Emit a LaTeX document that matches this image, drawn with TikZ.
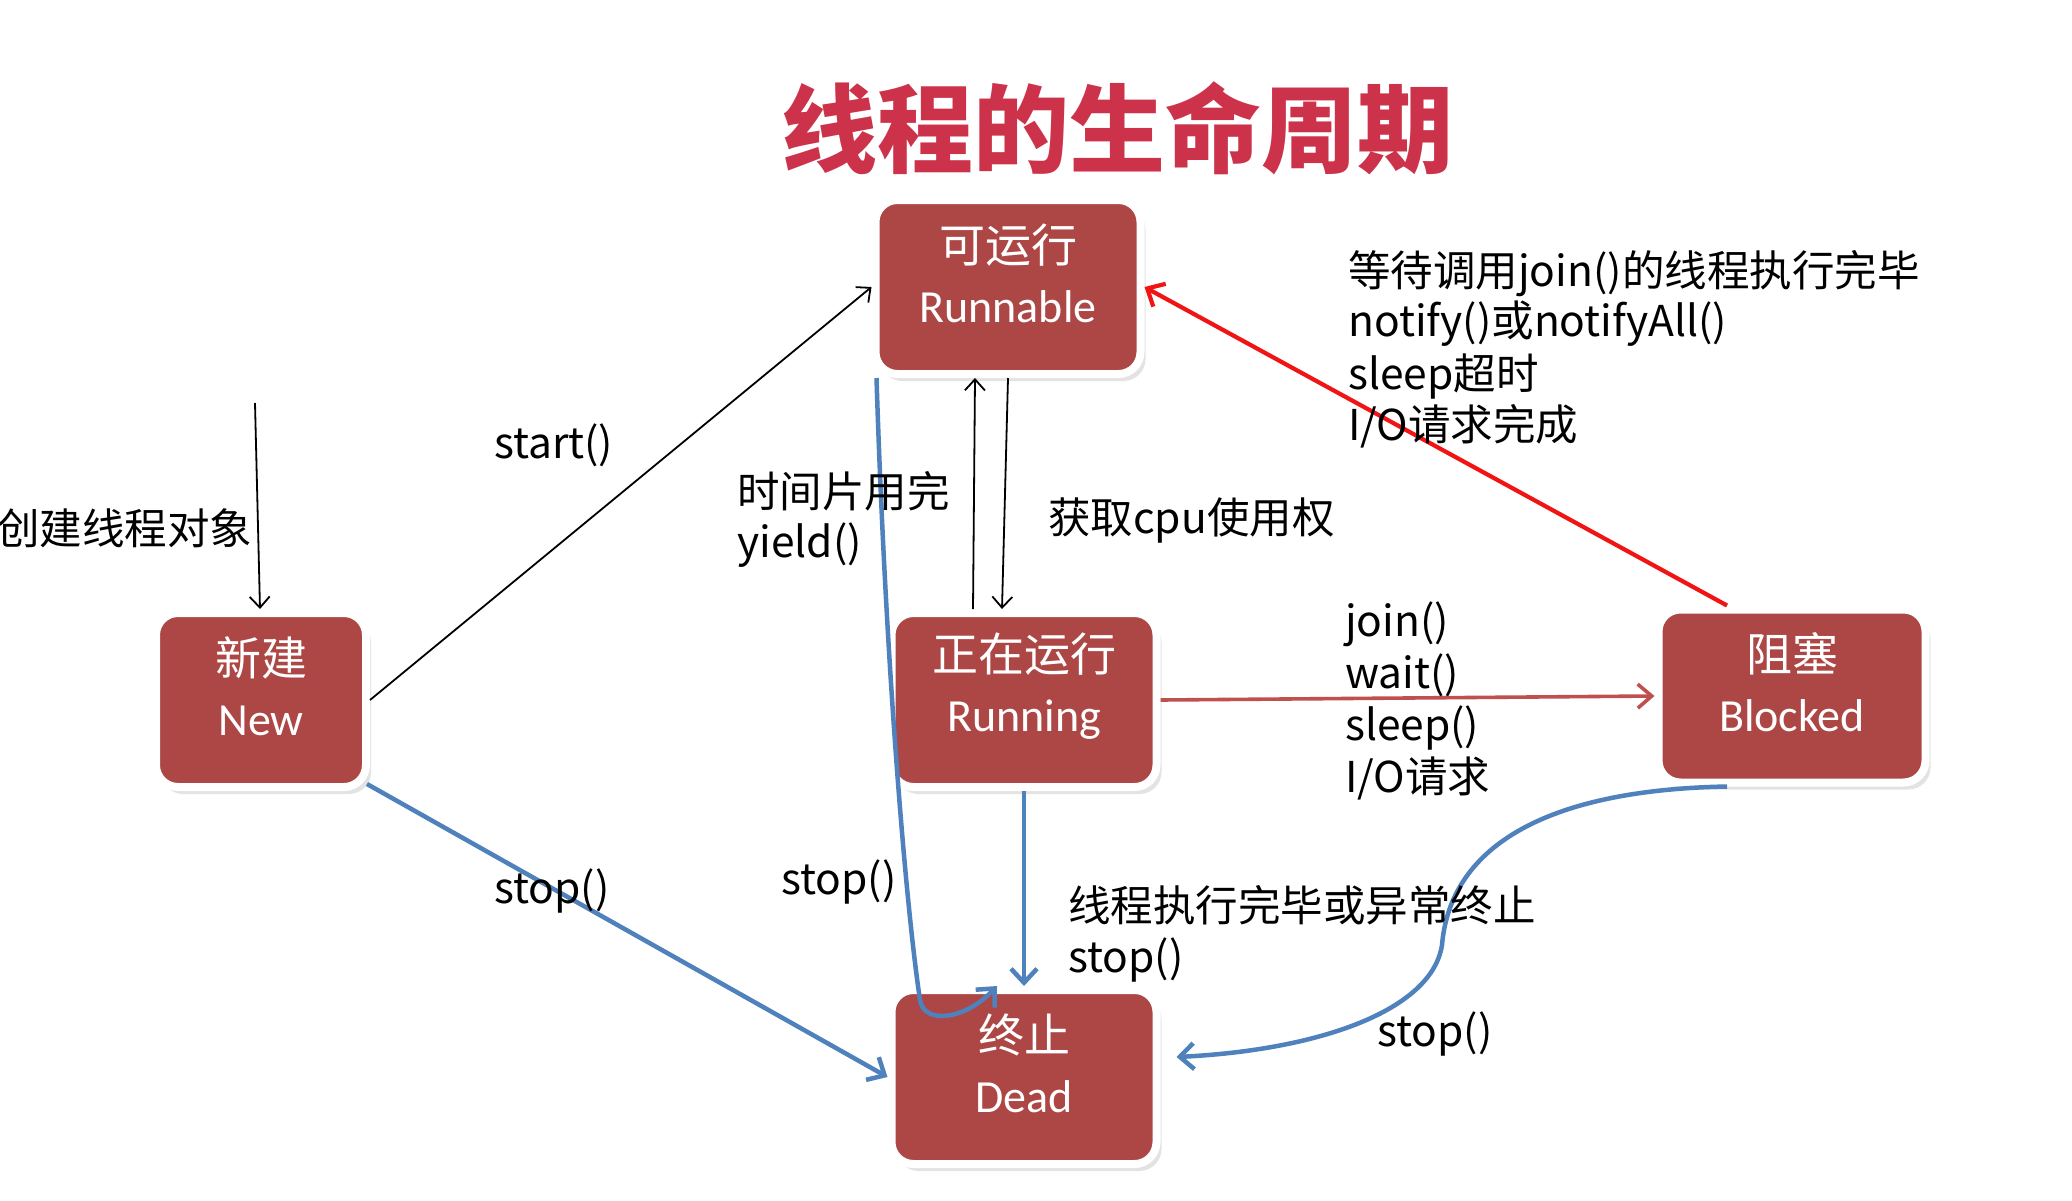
\documentclass[tikz,border=0pt]{standalone}
\usepackage{fontspec}
\setmainfont{Carlito}
\newfontfamily\cjk{Noto Sans CJK SC}
\usetikzlibrary{arrows.meta,shadows,calc}
\definecolor{boxred}{RGB}{172,71,69}
\definecolor{titlered}{RGB}{204,51,75}
\definecolor{lineblue}{RGB}{79,129,189}
\definecolor{arrowred}{RGB}{240,20,20}
\definecolor{darkred}{RGB}{192,80,77}
\begin{document}
\begin{tikzpicture}[x=1pt,y=-1pt,
  state/.style={draw=white, line width=8pt, fill=boxred, rounded corners=22pt,
    minimum width=265pt, minimum height=174pt, inner sep=0pt,
    drop shadow={shadow xshift=5pt, shadow yshift=-7pt, opacity=0.22}},
  statetxt/.style={text=white, align=center, inner sep=0pt,
    font=\fontsize{46}{60}\selectfont},
  lbl/.style={anchor=west, inner sep=0pt, text height=37pt, text depth=7pt,
    font=\cjk\fontsize{42.5}{51}\selectfont},
  blk/.style={draw=black, line width=1.8pt, -{Straight Barb[length=11pt,width=20pt]}},
  bluearr/.style={draw=lineblue, line width=4.5pt, -{Straight Barb[length=14pt,width=26pt]}},
  redarr/.style={draw=arrowred, line width=4.2pt, -{Straight Barb[length=14pt,width=26pt]}},
  drarr/.style={draw=darkred, line width=3.6pt, -{Straight Barb[length=14pt,width=24pt]}}
]
\fill[white] (0,0) rectangle (2072,1200);
\useasboundingbox (0,0) rectangle (2072,1200);

% title
\node[font=\cjk\bfseries\fontsize{96}{100}\selectfont, text=titlered] (title) at (1117,128) {线程的生命周期};

% states
\node[state] (runnable) at (1008,287) {};
\node[state, minimum width=210pt] (new) at (261,700) {};
\node[state] (running) at (1024,700) {};
\node[state] (dead) at (1024,1077) {};
\node[state, minimum width=267pt, minimum height=173pt] (blocked) at (1792,696) {};

\node[statetxt] (runnable-t) at ([yshift=14pt]runnable.center) {{\cjk 可运行}\\Runnable};
\node[statetxt] (new-t) at ([yshift=14pt]new.center) {{\cjk 新建}\\New};
\node[statetxt] (running-t) at ([yshift=14pt]running.center) {{\cjk 正在运行}\\Running};
\node[statetxt] (dead-t) at ([yshift=14pt]dead.center) {{\cjk 终止}\\Dead};
\node[statetxt] (blocked-t) at ([yshift=14pt]blocked.center) {{\cjk 阻塞}\\Blocked};

% connectors
\coordinate (cstart) at (255,403);
\draw[blk] (cstart) -- ([xshift=-1pt]new.north);
\draw[blk] (new.east) -- (runnable.west);
\draw[blk] (runnable.south) -- ([xshift=-22pt]running.north);
\draw[blk] ([xshift=-51pt]running.north) -- ([xshift=-33pt]runnable.south);
\draw[redarr] ([xshift=-65pt]blocked.north) -- (runnable.east);
\draw[drarr] (running.east) -- (blocked.west);
\draw[bluearr] ([shift={(-3pt,7pt)}]new.south east) -- (dead.west);
\draw[bluearr] (running.south) -- (dead.north);
\draw[bluearr] ([xshift=5pt]runnable.south west) .. controls (885,650) and (905,900) .. (920,1000)
   .. controls (924,1025) and (965,1020) .. ([xshift=-27pt]dead.north);
\draw[bluearr] ([xshift=-65pt]blocked.south) .. controls (1540,790) and (1450,850) .. (1442,945)
   .. controls (1432,1010) and (1320,1050) .. ([shift={(16pt,20pt)}]dead.east);

% labels
\node[lbl] (l-create) at (-3,529) {创建线程对象};
\node[lbl] (l-start) at (494,443) {start()};
\node[lbl] (l-slice) at (737,492) {时间片用完};
\node[lbl] (l-yield) at (737,542) {yield()};
\node[lbl] (l-cpu) at (1048,518) {获取cpu使用权};
\node[lbl] (l-w1) at (1348,271) {等待调用join()的线程执行完毕};
\node[lbl] (l-w2) at (1348,321) {notify()或notifyAll()};
\node[lbl] (l-w3) at (1348,374) {sleep超时};
\node[lbl] (l-w4) at (1348,425) {I/O请求完成};
\node[lbl] (l-b1) at (1345,621) {join()};
\node[lbl] (l-b2) at (1345,673) {wait()};
\node[lbl] (l-b3) at (1345,725) {sleep()};
\node[lbl] (l-b4) at (1345,777) {I/O请求};
\node[lbl] (l-stop1) at (494,888) {stop()};
\node[lbl] (l-stop2) at (781,879) {stop()};
\node[lbl] (l-end1) at (1068,906) {线程执行完毕或异常终止};
\node[lbl] (l-end2) at (1068,957) {stop()};
\node[lbl] (l-stop3) at (1377,1031) {stop()};
\end{tikzpicture}
\end{document}
